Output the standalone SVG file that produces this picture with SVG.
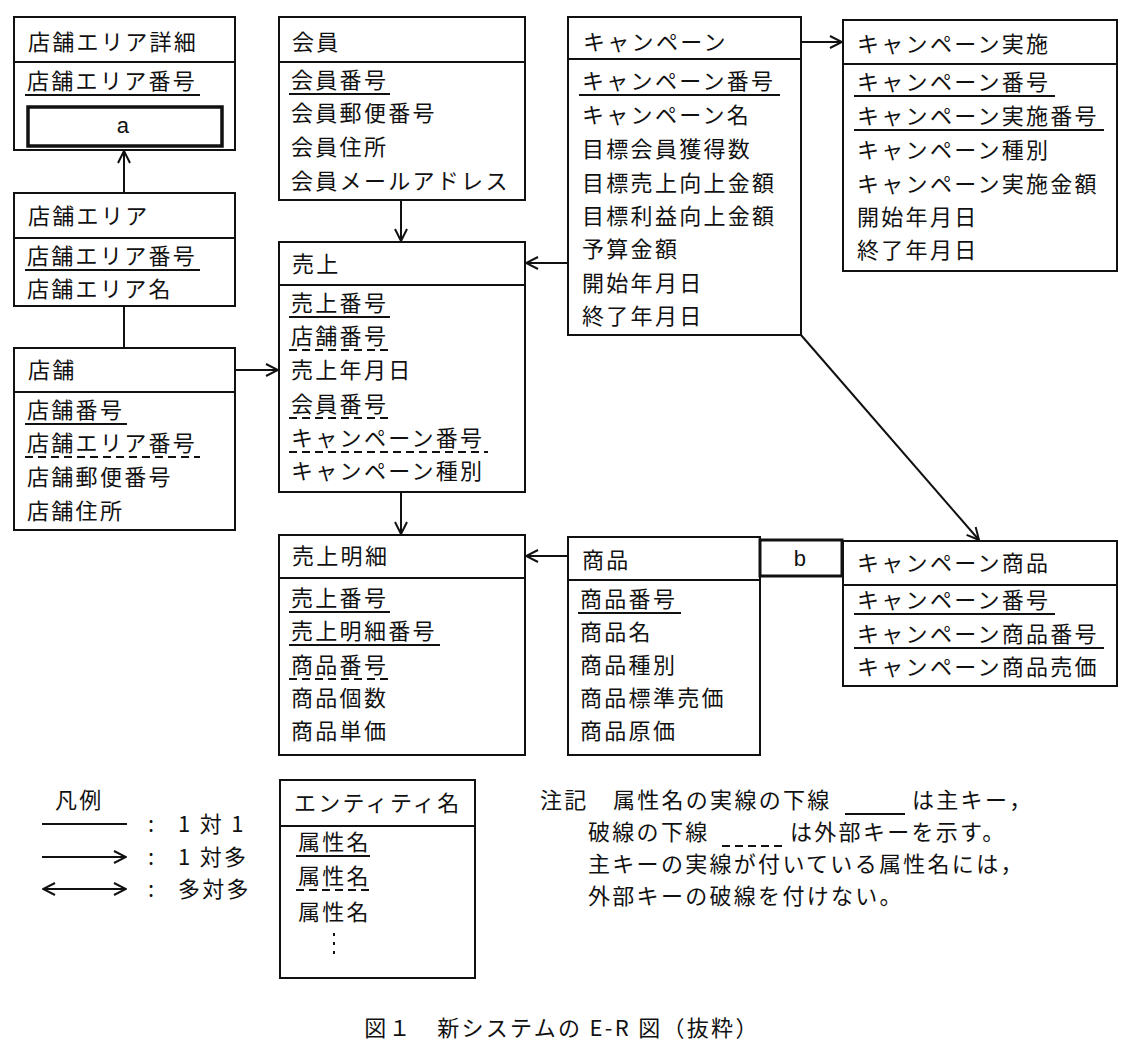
<svg xmlns="http://www.w3.org/2000/svg" width="1124" height="1054" viewBox="0 0 1124 1054">
<style>
text{font-family:"Noto Sans CJK JP","Noto Sans",sans-serif;font-size:22px;letter-spacing:2.3px;fill:#111}
.box{fill:#fff;stroke:#111;stroke-width:2}
.ln{stroke:#111;stroke-width:2;fill:none}
.pk{stroke:#111;stroke-width:2}
.fk{stroke:#111;stroke-width:2;stroke-dasharray:8,5}
</style>
<defs>
<marker id="ar" viewBox="0 0 14 14" refX="13" refY="7" markerWidth="14" markerHeight="14" markerUnits="userSpaceOnUse" orient="auto-start-reverse">
<path d="M1,1 L13,7 L1,13" fill="none" stroke="#111" stroke-width="2"/>
</marker>
</defs>
<rect width="1124" height="1054" fill="#fff"/>
<g id="connectors">
<line class="ln" x1="124" y1="193" x2="124" y2="151" marker-end="url(#ar)"/>
<line class="ln" x1="124" y1="306" x2="124" y2="348"/>
<line class="ln" x1="235" y1="370" x2="278" y2="370" marker-end="url(#ar)"/>
<line class="ln" x1="401" y1="200" x2="401" y2="241" marker-end="url(#ar)"/>
<line class="ln" x1="568" y1="263" x2="526" y2="263" marker-end="url(#ar)"/>
<line class="ln" x1="401" y1="492" x2="401" y2="534" marker-end="url(#ar)"/>
<line class="ln" x1="568" y1="556" x2="526" y2="556" marker-end="url(#ar)"/>
<line class="ln" x1="801" y1="42" x2="842" y2="42" marker-end="url(#ar)"/>
<line class="ln" x1="801" y1="335" x2="979" y2="540" marker-end="url(#ar)"/>
</g>
<g id="tenpo-area-shousai">
<rect class="box" x="14" y="17" width="221" height="133"/>
<line class="ln" x1="14" y1="62" x2="235" y2="62"/>
<text x="28" y="50">店舗エリア詳細</text>
<text x="27" y="89">店舗エリア番号</text>
<line class="pk" x1="25" y1="95" x2="200" y2="95"/>
<rect x="28" y="107" width="194" height="39" fill="#fff" stroke="#111" stroke-width="3.5"/>
<text x="124" y="133" text-anchor="middle" style="font-family:'Liberation Sans',sans-serif">a</text>
</g>
<g id="tenpo-area">
<rect class="box" x="14" y="193" width="221" height="113"/>
<line class="ln" x1="14" y1="238" x2="235" y2="238"/>
<text x="28" y="224">店舗エリア</text>
<text x="27" y="264">店舗エリア番号</text>
<line class="pk" x1="25" y1="270" x2="200" y2="270"/>
<text x="27" y="297">店舗エリア名</text>
</g>
<g id="tenpo">
<rect class="box" x="14" y="348" width="221" height="182"/>
<line class="ln" x1="14" y1="392" x2="235" y2="392"/>
<text x="28" y="378">店舗</text>
<text x="27" y="418">店舗番号</text>
<line class="pk" x1="25" y1="424" x2="127" y2="424"/>
<text x="27" y="451">店舗エリア番号</text>
<line class="fk" x1="25" y1="457" x2="200" y2="457"/>
<text x="27" y="485">店舗郵便番号</text>
<text x="27" y="519">店舗住所</text>
</g>
<g id="kaiin">
<rect class="box" x="279" y="17" width="246" height="183"/>
<line class="ln" x1="279" y1="62" x2="525" y2="62"/>
<text x="292" y="50">会員</text>
<text x="291" y="88">会員番号</text>
<line class="pk" x1="289" y1="94" x2="390" y2="94"/>
<text x="291" y="121">会員郵便番号</text>
<text x="291" y="155">会員住所</text>
<text x="291" y="189">会員メールアドレス</text>
</g>
<g id="uriage">
<rect class="box" x="279" y="242" width="246" height="250"/>
<line class="ln" x1="279" y1="285" x2="525" y2="285"/>
<text x="292" y="272">売上</text>
<text x="291" y="311">売上番号</text>
<line class="pk" x1="289" y1="317" x2="390" y2="317"/>
<text x="291" y="344">店舗番号</text>
<line class="fk" x1="289" y1="350" x2="390" y2="350"/>
<text x="291" y="378">売上年月日</text>
<text x="291" y="412">会員番号</text>
<line class="fk" x1="289" y1="418" x2="390" y2="418"/>
<text x="291" y="446">キャンペーン番号</text>
<line class="fk" x1="289" y1="452" x2="488" y2="452"/>
<text x="291" y="479">キャンペーン種別</text>
</g>
<g id="uriage-meisai">
<rect class="box" x="279" y="535" width="246" height="220"/>
<line class="ln" x1="279" y1="578" x2="525" y2="578"/>
<text x="292" y="564">売上明細</text>
<text x="291" y="606">売上番号</text>
<line class="pk" x1="289" y1="612" x2="390" y2="612"/>
<text x="291" y="639">売上明細番号</text>
<line class="pk" x1="289" y1="645" x2="440" y2="645"/>
<text x="291" y="673">商品番号</text>
<line class="fk" x1="289" y1="679" x2="390" y2="679"/>
<text x="291" y="706">商品個数</text>
<text x="291" y="739">商品単価</text>
</g>
<g id="campaign">
<rect class="box" x="568" y="17" width="233" height="318"/>
<line class="ln" x1="568" y1="59" x2="801" y2="59"/>
<text x="583" y="50">キャンペーン</text>
<text x="582" y="89">キャンペーン番号</text>
<line class="pk" x1="579" y1="95" x2="780" y2="95"/>
<text x="582" y="123">キャンペーン名</text>
<text x="582" y="157">目標会員獲得数</text>
<text x="582" y="191">目標売上向上金額</text>
<text x="582" y="224">目標利益向上金額</text>
<text x="582" y="257">予算金額</text>
<text x="582" y="291">開始年月日</text>
<text x="582" y="324">終了年月日</text>
</g>
<g id="campaign-jisshi">
<rect class="box" x="843" y="20" width="274" height="251"/>
<line class="ln" x1="843" y1="64" x2="1117" y2="64"/>
<text x="857" y="52">キャンペーン実施</text>
<text x="857" y="90">キャンペーン番号</text>
<line class="pk" x1="854" y1="96" x2="1055" y2="96"/>
<text x="857" y="124">キャンペーン実施番号</text>
<line class="pk" x1="854" y1="130" x2="1104" y2="130"/>
<text x="857" y="158">キャンペーン種別</text>
<text x="857" y="192">キャンペーン実施金額</text>
<text x="857" y="225">開始年月日</text>
<text x="857" y="258">終了年月日</text>
</g>
<g id="shouhin">
<rect class="box" x="568" y="537" width="192" height="218"/>
<line class="ln" x1="568" y1="580" x2="760" y2="580"/>
<text x="582" y="568">商品</text>
<text x="580" y="607">商品番号</text>
<line class="pk" x1="578" y1="613" x2="681" y2="613"/>
<text x="580" y="640">商品名</text>
<text x="580" y="673">商品種別</text>
<text x="580" y="706">商品標準売価</text>
<text x="580" y="739">商品原価</text>
</g>
<g id="b">
<rect x="760" y="540" width="82" height="36" fill="#fff" stroke="#111" stroke-width="3"/>
<text x="801" y="566" text-anchor="middle" style="font-family:'Liberation Sans',sans-serif">b</text>
</g>
<g id="campaign-shouhin">
<rect class="box" x="843" y="541" width="274" height="145"/>
<line class="ln" x1="843" y1="585" x2="1117" y2="585"/>
<text x="857" y="571">キャンペーン商品</text>
<text x="857" y="608">キャンペーン番号</text>
<line class="pk" x1="854" y1="614" x2="1055" y2="614"/>
<text x="857" y="642">キャンペーン商品番号</text>
<line class="pk" x1="854" y1="648" x2="1104" y2="648"/>
<text x="857" y="675">キャンペーン商品売価</text>
</g>
<g id="legend">
<text x="55" y="808">凡例</text>
<line class="ln" x1="42" y1="824" x2="127" y2="824"/>
<line class="ln" x1="42" y1="857" x2="126" y2="857" marker-end="url(#ar)"/>
<line class="ln" x1="43" y1="889" x2="126" y2="889" marker-start="url(#ar)" marker-end="url(#ar)"/>
<text x="148" y="832">:</text>
<text x="148" y="865">:</text>
<text x="148" y="897">:</text>
<text x="178" y="832">1 対 1</text>
<text x="178" y="865">1 対多</text>
<text x="178" y="897">多対多</text>
</g>
<g id="legend-entity">
<rect class="box" x="280" y="780" width="195" height="198"/>
<line class="ln" x1="280" y1="826" x2="475" y2="826"/>
<text x="294" y="811">エンティティ名</text>
<text x="298" y="850">属性名</text>
<line class="pk" x1="296" y1="856" x2="370" y2="856"/>
<text x="298" y="884">属性名</text>
<line class="fk" x1="296" y1="890" x2="372" y2="890"/>
<text x="298" y="920">属性名</text>
<line x1="334" y1="933" x2="334" y2="957" stroke="#111" stroke-width="2" stroke-dasharray="3,6"/>
</g>
<g id="note">
<text x="540" y="808">注記　属性名の実線の下線</text>
<line class="pk" x1="845" y1="814" x2="905" y2="814"/>
<text x="912" y="808">は主キー，</text>
<text x="588" y="840">破線の下線</text>
<line class="fk" x1="722" y1="846" x2="782" y2="846"/>
<text x="790" y="840">は外部キーを示す。</text>
<text x="588" y="872">主キーの実線が付いている属性名には，</text>
<text x="588" y="904">外部キーの破線を付けない。</text>
</g>
<text x="562" y="1036" text-anchor="middle">図１　新システムの E-R 図（抜粋）</text>
</svg>
